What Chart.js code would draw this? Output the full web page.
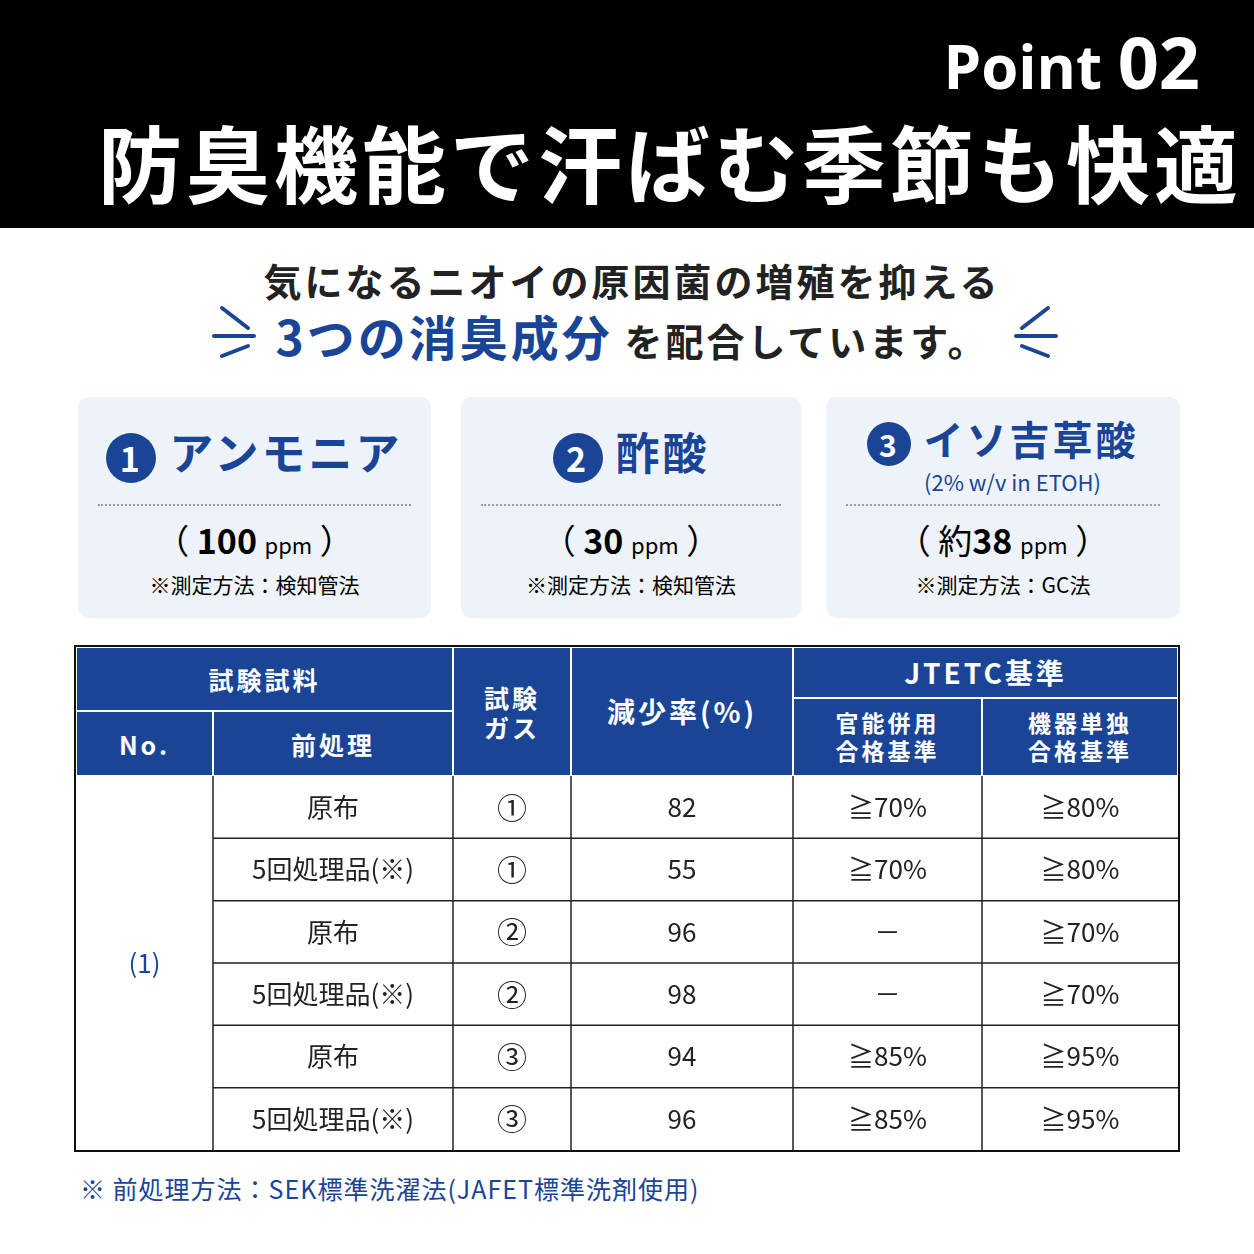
<!DOCTYPE html>
<html><head><meta charset="utf-8">
<script src="https://cdn.jsdelivr.net/npm/chart.js@4.4.1/dist/chart.umd.min.js"></script>
<style>
body{margin:0;width:1254px;height:1254px;position:relative;background:#fff;font-family:"Noto Sans CJK JP","Noto Sans",sans-serif;overflow:hidden}
.a{position:absolute}
.top{left:0;top:0;width:1254px;height:228px;background:#000}
.card{background:#eef3f9;border-radius:10px;top:397px;height:221px}
.dot{position:absolute;left:20px;right:20px;top:107px;border-top:2px dotted #999}
.h{background:#1a4596;color:#fff;font-weight:bold;display:flex;align-items:center;justify-content:center;text-align:center;font-size:25px;letter-spacing:3px;box-sizing:border-box;border:1px solid #fff;line-height:1.2}
.num{display:inline-block;width:50px;height:50px;border-radius:50%;background:#1a4596;color:#fff;text-align:center;line-height:50px;font-size:34px;vertical-align:middle}
</style></head><body>
<div class="a top"></div>
<div class="a" style="right:54px;top:12px;color:#fff;font:bold 60px 'Open Sans',sans-serif">Point <span style="font-size:72px">02</span></div>
<div class="a" style="left:98px;top:100px;color:#fff;font-weight:bold;font-size:84px;letter-spacing:4px;white-space:nowrap">防臭機能で汗ばむ季節も快適</div>
<div class="a" style="left:0;width:1264px;top:252px;text-align:center;font-weight:bold;font-size:38px;color:#222;letter-spacing:3px">気になるニオイの原因菌の増殖を抑える</div>
<div class="a" style="left:0;width:1264px;top:300px;text-align:center;font-weight:bold;font-size:38px;color:#222;letter-spacing:3px"><span style="color:#1a4596;font-size:48px">3つの消臭成分</span> を配合しています。</div>
<svg class="a" style="left:200px;top:300px" width="70" height="64"><g stroke="#1a4596" stroke-width="4" stroke-linecap="round"><line x1="22" y1="8" x2="48" y2="28"/><line x1="14" y1="36" x2="54" y2="36"/><line x1="22" y1="56" x2="48" y2="46"/></g></svg>
<svg class="a" style="left:1000px;top:300px" width="70" height="64"><g stroke="#1a4596" stroke-width="4" stroke-linecap="round"><line x1="48" y1="8" x2="22" y2="28"/><line x1="56" y1="36" x2="16" y2="36"/><line x1="48" y1="56" x2="22" y2="46"/></g></svg>
<div class="a card" style="left:78px;width:353px"><div class="a" style="top:22px;width:100%;text-align:center;color:#1a4596;font-weight:bold;font-size:44px;letter-spacing:3px"><span class="num">1</span> アンモニア</div><div class="dot"></div><div class="a" style="top:118px;width:100%;text-align:center;font-size:34px">（ <b>100</b> <span style="font-size:22px">ppm</span> ）</div><div class="a" style="top:172px;width:100%;text-align:center;font-size:21px">※測定方法：検知管法</div></div>
<div class="a card" style="left:461px;width:340px"><div class="a" style="top:22px;width:100%;text-align:center;color:#1a4596;font-weight:bold;font-size:44px;letter-spacing:3px"><span class="num">2</span> 酢酸</div><div class="dot"></div><div class="a" style="top:118px;width:100%;text-align:center;font-size:34px">（ <b>30</b> <span style="font-size:22px">ppm</span> ）</div><div class="a" style="top:172px;width:100%;text-align:center;font-size:21px">※測定方法：検知管法</div></div>
<div class="a card" style="left:826px;width:354px"><div class="a" style="top:12px;width:100%;text-align:center;color:#1a4596;font-weight:bold;font-size:40px;letter-spacing:3px"><span class="num" style="width:44px;height:44px;line-height:44px;font-size:30px">3</span> イソ吉草酸</div><div class="a" style="top:68px;left:98px;color:#1a4596;font-size:22px">(2% w/v in ETOH)</div><div class="dot"></div><div class="a" style="top:118px;width:100%;text-align:center;font-size:34px">（ 約<b>38</b> <span style="font-size:22px">ppm</span> ）</div><div class="a" style="top:172px;width:100%;text-align:center;font-size:21px">※測定方法：GC法</div></div>

<div class="a" style="left:74px;top:645px;width:1106px;height:507px;border:2px solid #111;box-sizing:border-box"></div>
<div class="a h" style="left:76px;top:647px;width:377px;height:64px">試験試料</div>
<div class="a h" style="left:76px;top:711px;width:137px;height:65px">No.</div>
<div class="a h" style="left:213px;top:711px;width:240px;height:65px">前処理</div>
<div class="a h" style="left:453px;top:647px;width:118px;height:129px">試験<br>ガス</div>
<div class="a h" style="left:571px;top:647px;width:222px;height:129px;font-size:28px">減少率(%)</div>
<div class="a h" style="left:793px;top:647px;width:385px;height:51px;font-size:28px">JTETC基準</div>
<div class="a h" style="left:793px;top:698px;width:189px;height:78px;font-size:23px">官能併用<br>合格基準</div>
<div class="a h" style="left:982px;top:698px;width:196px;height:78px;font-size:23px">機器単独<br>合格基準</div>
<div class="a" style="left:76px;top:776px;width:1102px;height:374px"><canvas id="c"></canvas></div>
<div class="a" style="left:80px;top:1170px;color:#1a4596;font-size:25px;letter-spacing:1px">※ 前処理方法：SEK標準洗濯法(JAFET標準洗剤使用)</div>
<script>
const treatments = ['原布', '5回処理品(※)', '原布', '5回処理品(※)', '原布', '5回処理品(※)'];
const gases = ['①', '①', '②', '②', '③', '③'];
const reduction = [82, 55, 96, 98, 94, 96];
const sensoryStd = ['≧70%', '≧70%', '－', '－', '≧85%', '≧85%'];
const instrumentStd = ['≧80%', '≧80%', '≧70%', '≧70%', '≧95%', '≧95%'];
const sampleNo = '(1)';
// column edges in table units (layout only)
const colEdges = [0, 137, 377, 495, 717, 906, 1102];

const cols = [treatments, gases, reduction.map(String), sensoryStd, instrumentStd];
const tablePlugin = {
  id: 'table',
  afterDraw(chart) {
    const {ctx, scales: {x, y}} = chart;
    ctx.save();
    ctx.strokeStyle = '#222'; ctx.lineWidth = 1.5;
    for (let r = 1; r < 6; r++) {
      ctx.beginPath(); ctx.moveTo(x.getPixelForValue(colEdges[1]), y.getPixelForValue(r));
      ctx.lineTo(x.getPixelForValue(colEdges[6]), y.getPixelForValue(r)); ctx.stroke();
    }
    for (let c = 1; c < 6; c++) {
      ctx.beginPath(); ctx.moveTo(x.getPixelForValue(colEdges[c]), y.getPixelForValue(0));
      ctx.lineTo(x.getPixelForValue(colEdges[c]), y.getPixelForValue(6)); ctx.stroke();
    }
    ctx.textAlign = 'center'; ctx.textBaseline = 'middle';
    ctx.font = '26px "Noto Sans CJK JP"';
    ctx.fillStyle = '#1a4596';
    ctx.fillText(sampleNo, x.getPixelForValue(colEdges[0] / 2 + colEdges[1] / 2), y.getPixelForValue(3));
    ctx.fillStyle = '#222';
    cols.forEach((vals, c) => {
      const cx = x.getPixelForValue((colEdges[c + 1] + colEdges[c + 2]) / 2);
      vals.forEach((v, r) => {
        ctx.font = (c === 1 ? '30px' : '26px') + ' "Noto Sans CJK JP"';
        ctx.fillText(v, cx, y.getPixelForValue(r + 0.5));
      });
    });
    ctx.restore();
  }
};
new Chart(document.getElementById('c'), {
  type: 'scatter',
  data: { datasets: [{ data: reduction.map((v, i) => ({x: 606, y: i + 0.5})), pointRadius: 0 }] },
  options: {
    responsive: true, maintainAspectRatio: false, animation: false,
    layout: { padding: 0 },
    plugins: { legend: { display: false }, tooltip: { enabled: false } },
    scales: {
      x: { type: 'linear', min: 0, max: 1102, display: false },
      y: { type: 'linear', min: 0, max: 6, reverse: true, display: false }
    }
  },
  plugins: [tablePlugin]
});
</script>
</body></html>
